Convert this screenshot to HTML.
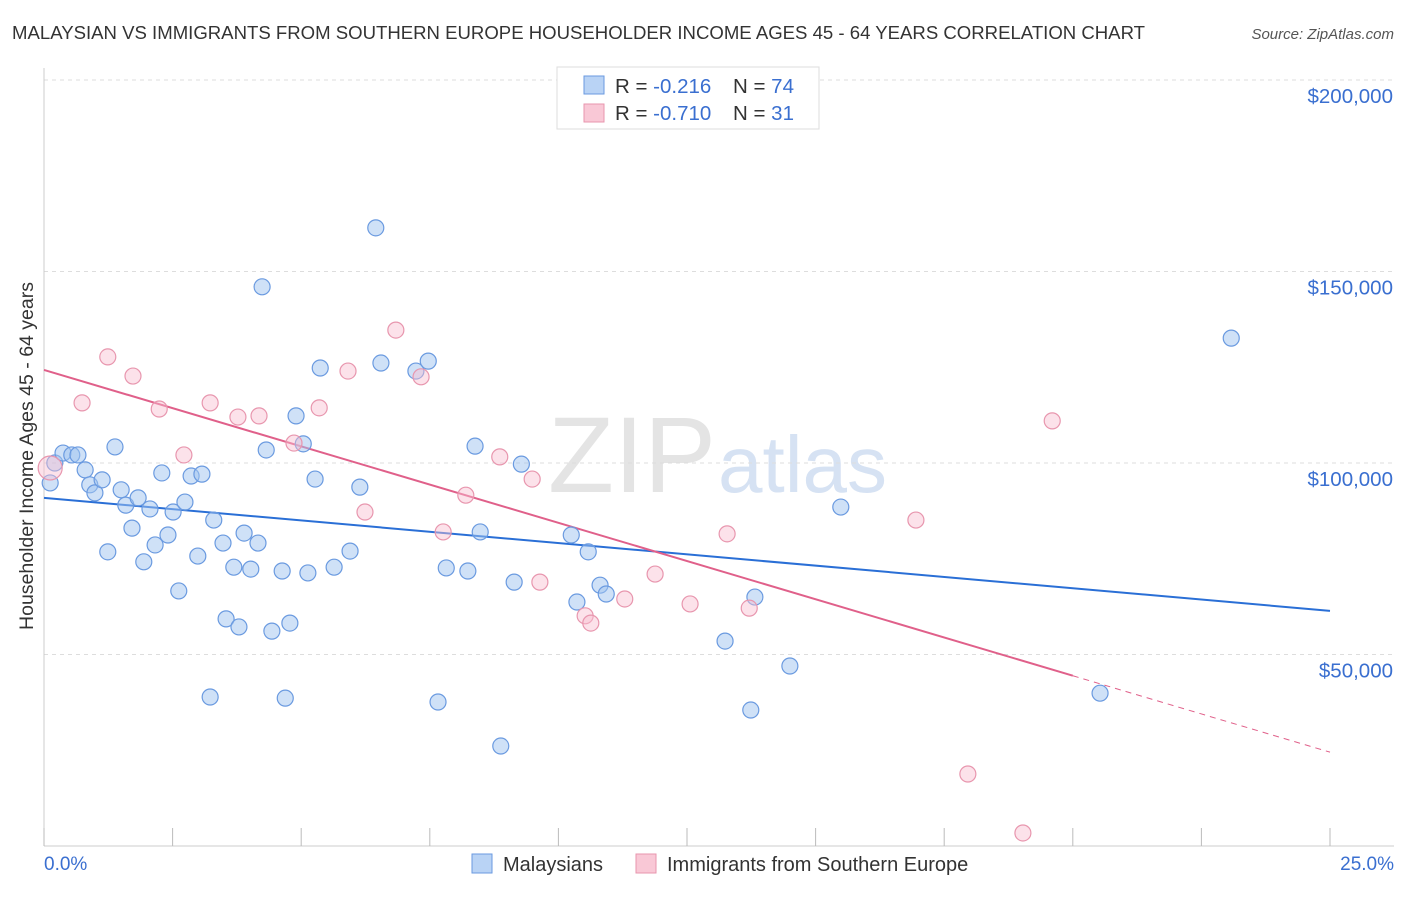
<!DOCTYPE html>
<html><head><meta charset="utf-8"><style>
body{margin:0;background:#fff;font-family:"Liberation Sans",sans-serif;}
svg text{font-family:"Liberation Sans",sans-serif;}
</style></head><body>
<svg id="chart" width="1406" height="892">
<text x="12" y="39" font-size="18" fill="#333" textLength="1133" lengthAdjust="spacingAndGlyphs">MALAYSIAN VS IMMIGRANTS FROM SOUTHERN EUROPE HOUSEHOLDER INCOME AGES 45 - 64 YEARS CORRELATION CHART</text>
<text x="1394" y="39" font-size="15" fill="#555" text-anchor="end" font-style="italic">Source: ZipAtlas.com</text>
<text x="716" y="492" font-size="108" fill="#e4e4e4" text-anchor="end" font-family="Liberation Serif">ZIP</text>
<text x="718" y="492" font-size="80" fill="#d6e2f3">atlas</text>
<g id="grid"></g><g id="axes"></g><g id="lines"></g><g id="pts"></g>
<text x="33" y="456" font-size="19.5" fill="#333" text-anchor="middle" transform="rotate(-90 33 456)">Householder Income Ages 45 - 64 years</text>
<text x="44" y="870" font-size="19" fill="#3a6fd0">0.0%</text>
<text x="1394" y="870" font-size="19" fill="#3a6fd0" text-anchor="end">25.0%</text>
<g>
<rect x="557" y="67" width="262" height="62" fill="#fff" stroke="#ddd"/>
<rect x="584" y="76" width="20" height="18" fill="#b9d3f5" stroke="#6a9ae0"/>
<rect x="584" y="104" width="20" height="18" fill="#f9c8d6" stroke="#e896ae"/>
<text x="615" y="93" font-size="20.5" fill="#333">R = <tspan fill="#3a6fd0">-0.216</tspan><tspan x="733">N = </tspan><tspan fill="#3a6fd0">74</tspan></text>
<text x="615" y="120" font-size="20.5" fill="#333">R = <tspan fill="#3a6fd0">-0.710</tspan><tspan x="733">N = </tspan><tspan fill="#3a6fd0"> 31</tspan></text>
</g>
<g>
<rect x="472" y="854" width="20" height="19" fill="#b9d3f5" stroke="#6a9ae0"/>
<text x="503" y="871" font-size="20" fill="#333">Malaysians</text>
<rect x="636" y="854" width="20" height="19" fill="#f9c8d6" stroke="#e896ae"/>
<text x="667" y="871" font-size="20" fill="#333">Immigrants from Southern Europe</text>
</g>
</svg>
<script>
const yTicks=[50000,100000,150000,200000];
const yTickLabels=["$50,000","$100,000","$150,000","$200,000"];
const xTicks=[0,2.5,5,7.5,10,12.5,15,17.5,20,22.5,25];
const blueX=[0.12,0.21,0.37,0.54,0.66,0.80,0.89,0.99,1.13,1.38,1.24,1.50,1.59,1.71,1.83,1.94,2.06,2.16,2.29,2.41,2.51,2.62,2.74,2.86,2.99,3.07,3.23,3.30,3.48,3.54,3.69,3.79,3.89,4.02,4.16,4.24,4.32,4.43,4.63,4.69,4.78,4.90,5.04,5.13,5.27,5.37,5.64,5.95,6.14,6.45,6.55,7.23,7.47,7.66,7.82,8.24,8.38,8.48,8.88,9.14,9.28,10.25,10.36,10.58,10.81,10.93,13.24,13.74,13.82,14.50,15.49,20.53,23.08];
const blueY=[94.8,100.0,102.6,102.1,102.1,98.2,94.3,92.2,95.6,104.2,76.8,93.0,89.0,83.0,90.9,74.2,88.0,78.6,97.4,81.2,87.2,66.6,89.8,96.6,75.7,97.1,38.9,85.1,79.1,59.3,72.8,57.2,81.7,72.3,79.1,146.0,103.4,56.1,71.8,38.6,58.2,112.3,105.0,71.3,95.8,124.8,72.8,77.0,93.7,161.4,126.1,124.0,126.6,37.6,72.6,71.8,104.4,82.0,26.1,68.9,99.7,81.2,63.7,76.8,68.1,65.8,53.5,35.5,65.0,47.0,88.5,39.9,132.6];
const pinkX=[0.12,1.24,0.74,1.73,2.24,2.72,3.23,3.77,4.18,4.86,5.35,5.91,6.24,6.84,7.33,7.76,8.20,8.86,9.49,9.64,10.52,10.63,11.29,11.88,12.56,13.28,13.71,16.95,19.60,17.96,19.03];
const pinkY=[98.7,127.7,115.7,122.7,114.1,102.1,115.7,112.0,112.3,105.2,114.4,124.0,87.2,134.7,122.5,82.0,91.6,101.6,95.8,68.9,60.1,58.2,64.5,71.0,63.2,81.5,62.1,85.1,111.0,18.8,3.4];
const blueTrend=[90.9,61.4];
const pinkTrend=[124.3,24.5];
const NS="http://www.w3.org/2000/svg";
const X=p=>44+p/25*1286;
const Y=v=>846-v/100000*383;
function mk(parent,tag,attrs){const e=document.createElementNS(NS,tag);for(const k in attrs)e.setAttribute(k,attrs[k]);document.getElementById(parent).appendChild(e);return e;}
yTicks.forEach((t,i)=>{
 const l=mk('grid','line',{x1:44,x2:1394,y1:Y(t),y2:Y(t),stroke:'#ddd','stroke-dasharray':'4 4'});
 
 
 const tx=mk('grid','text',{x:1393,y:Y(t)+23,'font-size':20.5,fill:'#3a6fd0','text-anchor':'end'});
 tx.textContent=yTickLabels[i];
 
 
});
const ax=mk('axes','line',{x1:44,x2:44,y1:68,y2:846,stroke:'#ccc'});


const bx=mk('axes','line',{x1:44,x2:1394,y1:846,y2:846,stroke:'#ccc'});


xTicks.forEach(t=>{const l=mk('axes','line',{x1:X(t),x2:X(t),y1:828,y2:846,stroke:'#bbb'});
 
 });
blueX.forEach((x,i)=>{const c=mk('pts','circle',{cx:X(x),cy:Y(blueY[i]*1000),r:8,fill:'rgba(160,195,240,0.5)',stroke:'#6a9ae0','stroke-width':1.2});
 
 });
pinkX.forEach((x,i)=>{const c=mk('pts','circle',{cx:X(x),cy:Y(pinkY[i]*1000),r:i===0?12:8,fill:'rgba(248,190,208,0.45)',stroke:'#e896ae','stroke-width':1.2});
 
 });
const bl=mk('lines','line',{x1:X(0),y1:Y(blueTrend[0]*1000),x2:X(25),y2:Y(blueTrend[1]*1000),stroke:'#2a6fd6','stroke-width':2});


const pm=v=>pinkTrend[0]+(pinkTrend[1]-pinkTrend[0])*v/25;
const pl=mk('lines','line',{x1:X(0),y1:Y(pinkTrend[0]*1000),x2:X(20),y2:Y(pm(20)*1000),stroke:'#e0608a','stroke-width':2});


const pd=mk('lines','line',{x1:X(20),y1:Y(pm(20)*1000),x2:X(25),y2:Y(pinkTrend[1]*1000),stroke:'#e0608a','stroke-width':1,'stroke-dasharray':'6 5'});


</script>
</body></html>
